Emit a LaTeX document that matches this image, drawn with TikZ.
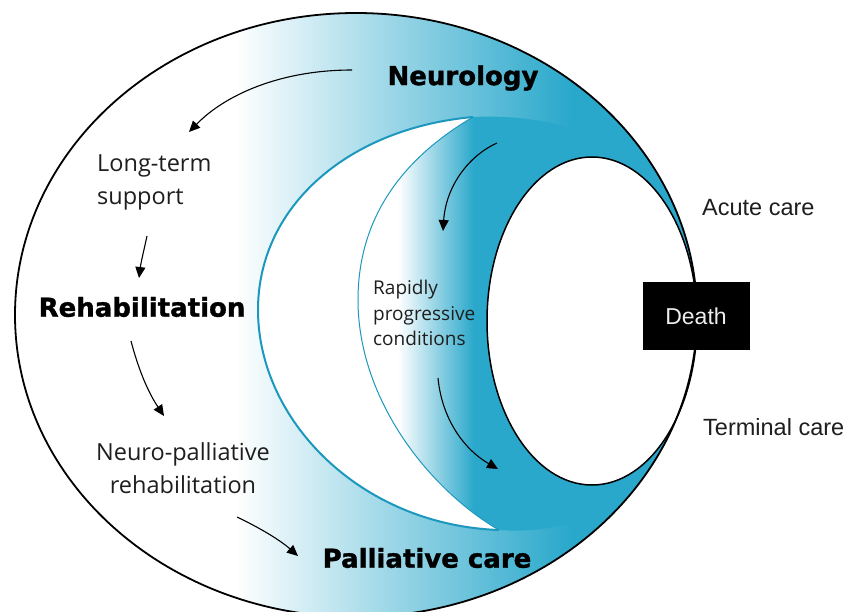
\documentclass[tikz,border=0pt]{standalone}
\usepackage{fontspec}
\setmainfont{Liberation Sans}
\newfontfamily\heavyfont{DejaVu Sans}[BoldFeatures={FakeBold=1.3}]
\newfontfamily\softfont{Open Sans}
\usetikzlibrary{arrows.meta}
\definecolor{teal1}{RGB}{42,168,203}
\definecolor{arcline}{RGB}{28,152,190}
\definecolor{txt}{RGB}{30,30,30}
\begin{document}
\begin{tikzpicture}[x=1pt,y=-1pt,
  flow/.style={line width=1.1pt,-{Triangle[length=11pt,width=10pt]},black},
  heavy/.style={font=\heavyfont\bfseries\fontsize{26}{30}\selectfont,text=black,inner sep=0pt},
  soft/.style={font=\softfont\fontsize{23.5}{33}\selectfont,text=txt,inner sep=0pt},
  smallsoft/.style={font=\softfont\fontsize{19}{25.5}\selectfont,text=txt,inner sep=0pt,align=left},
  plain/.style={font=\fontsize{23.5}{26}\selectfont,text=txt,inner sep=0pt},
]
\useasboundingbox (0,0) rectangle (846,611);
\fill[white] (0,0) rectangle (846,611);

% outer region with gradient
\begin{scope}
  \clip (356,315) ellipse [x radius=341, y radius=302];
  \shade[left color=white,right color=teal1] (235,0) rectangle (570,611);
  \fill[teal1] (570,0) rectangle (846,611);
  % second gradient region
  \begin{scope}
    \clip (473,117) .. controls (400,160) and (358,220) .. (358,300)
          .. controls (358,400) and (430,490) .. (499,530)
          .. controls (640,540) and (720,420) .. (720,320)
          .. controls (720,200) and (620,110) .. (473,117) -- cycle;
    \fill[white] (300,0) rectangle (398,611);
    \shade[left color=white,right color=teal1] (398,0) rectangle (474,611);
    \fill[teal1] (474,0) rectangle (846,611);
  \end{scope}
  % white crescent
  \fill[white] (473,117) .. controls (350,128) and (258,205) .. (258,310)
          .. controls (258,420) and (360,525) .. (499,530)
          .. controls (430,490) and (358,400) .. (358,300)
          .. controls (358,220) and (400,160) .. (473,117) -- cycle;
\end{scope}

% crescent edges
\draw[arcline,line width=2pt] (473,117) .. controls (350,128) and (258,205) .. (258,310)
          .. controls (258,420) and (360,525) .. (499,530);
\draw[arcline,line width=1pt] (473,117) .. controls (400,160) and (358,220) .. (358,300)
          .. controls (358,400) and (430,490) .. (499,530);

% inner white ellipse and outer outline
\filldraw[fill=white,draw=black,line width=1.5pt] (592,321) ellipse [x radius=105, y radius=164];
\draw[black,line width=1.8pt] (356,315) ellipse [x radius=341, y radius=302];

% Death box
\node[fill=black,minimum width=107pt,minimum height=68pt,inner sep=0pt,
      font=\fontsize{23}{26}\selectfont,text=white!93!black] (death) at (696,316) {Death};

% texts
\node[heavy] (neuro) at (463,78) {Neurology};
\node[heavy] (rehab) at (142,307) {Rehabilitation};
\node[heavy] (pall) at (427,558) {Palliative care};
\node[soft,align=left,anchor=north west] (lts) at (97,155) {Long-term\\support};
\node[soft,align=center,anchor=north] (npr) at (183,442) {Neuro-palliative\\rehabilitation};
\node[smallsoft,anchor=north west] (rpc) at (373,280) {Rapidly\\progressive\\conditions};
\node[plain,anchor=base west] (acute) at (702,215) {Acute care};
\node[plain,anchor=base west] (terminal) at (703,435) {Terminal care};

% arrow end points
\coordinate (a1s) at (352,70);  \coordinate (a1e) at (189,132);
\coordinate (a2s) at (147,236); \coordinate (a2e) at (139,278);
\coordinate (a3s) at (131,341); \coordinate (a3e) at (164,416);
\coordinate (a4s) at (237,517); \coordinate (a4e) at (298,556);
\coordinate (a5s) at (497,143); \coordinate (a5e) at (443,231);
\coordinate (a6s) at (438,378); \coordinate (a6e) at (498,469);

\draw[flow] (a1s) .. controls (280,70) and (225,95) .. (a1e);
\draw[flow] (a2s) .. controls (144,250) and (141,262) .. (a2e);
\draw[flow] (a3s) .. controls (140,375) and (150,395) .. (a3e);
\draw[flow] (a4s) .. controls (260,528) and (280,540) .. (a4e);
\draw[flow] (a5s) .. controls (470,155) and (446,185) .. (a5e);
\draw[flow] (a6s) .. controls (442,420) and (465,450) .. (a6e);
\end{tikzpicture}
\end{document}
